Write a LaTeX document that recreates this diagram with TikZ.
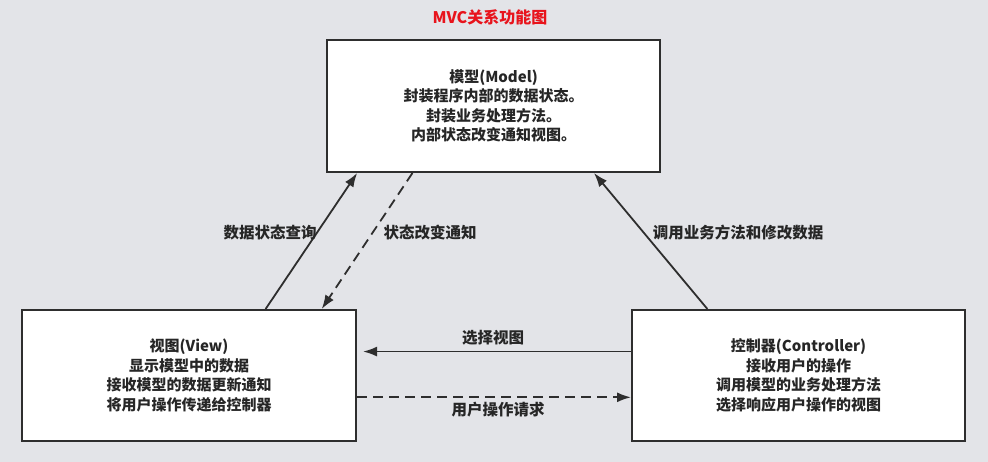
\documentclass[tikz,border=0pt]{standalone}
\usepackage{fontspec}
\setmainfont{Noto Sans CJK SC}
\usetikzlibrary{arrows.meta,calc}
\definecolor{bg}{HTML}{E3E4E8}
\definecolor{ink}{HTML}{262626}
\definecolor{linecol}{HTML}{2E2E2E}
\definecolor{titlered}{HTML}{E8141C}
\tikzset{
  box/.style={draw=linecol, line width=2pt, fill=white, align=center, text=ink,
    font=\fontsize{15}{19.5}\selectfont\bfseries, inner sep=0pt},
  conn/.style={draw=linecol, line width=1.8pt, -{Latex[length=14pt,width=10pt]}},
  dconn/.style={conn, dash pattern=on 10pt off 6pt},
  lbl/.style={text=ink, font=\fontsize{15.5}{18}\selectfont\bfseries, inner sep=0pt},
}
\begin{document}
\begin{tikzpicture}[x=1pt,y=1pt]
\fill[bg] (0,0) rectangle (988,-462);
\useasboundingbox (0,0) rectangle (988,-462);
\node[font=\fontsize{16}{18}\selectfont\bfseries, text=titlered, inner sep=0pt] (title) at (490,-17) {MVC关系功能图};
\node[box, minimum width=333pt, minimum height=132pt] (model) at (493.5,-106)
  {模型(Model)\\封装程序内部的数据状态。\\封装业务处理方法。\\内部状态改变通知视图。};
\node[box, minimum width=334pt, minimum height=131pt] (view) at (189,-375.5)
  {视图(View)\\显示模型中的数据\\接收模型的数据更新通知\\将用户操作传递给控制器};
\node[box, minimum width=333pt, minimum height=131pt] (ctrl) at (798.5,-375.5)
  {控制器(Controller)\\接收用户的操作\\调用模型的业务处理方法\\选择响应用户操作的视图};
% diagonal connectors
\draw[conn] ($(view.north west)!0.728!(view.north east)$) -- ($(model.south west)!0.093!(model.south east)$);
\draw[dconn] ($(model.south west)!0.258!(model.south east)$) -- ($(view.north west)!0.895!(view.north east)$);
\draw[conn] ($(ctrl.north west)!0.228!(ctrl.north east)$) -- ($(model.south west)!0.80!(model.south east)$);
% horizontal connectors
\draw[conn] ($(ctrl.north west)!0.32!(ctrl.south west)$) -- ($(view.north east)!0.32!(view.south east)+(6,0)$);
\draw[dconn] ($(view.north east)!0.664!(view.south east)$) -- ($(ctrl.north west)!0.664!(ctrl.south west)$);
% labels
\node[lbl] (l1) at (270,-233) {数据状态查询};
\node[lbl] (l2) at (430,-233) {状态改变通知};
\node[lbl] (l3) at (738,-233) {调用业务方法和修改数据};
\node[lbl] (l4) at (493,-338) {选择视图};
\node[lbl] (l5) at (498,-410) {用户操作请求};
\end{tikzpicture}
\end{document}
